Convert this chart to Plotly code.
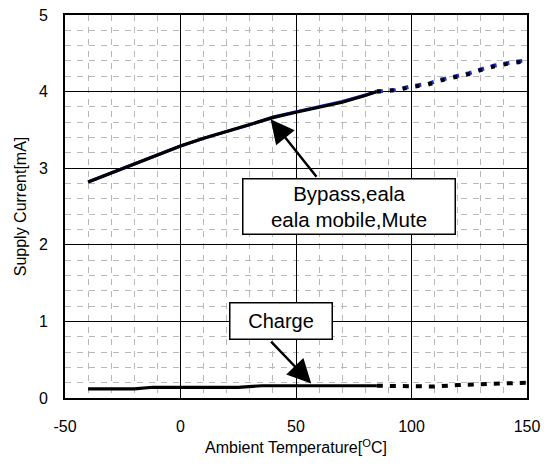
import plotly.graph_objects as go

# Bypass, eala, eala mobile, Mute  (measured / solid part)
byp_x = [-40, -30, -20, -10, 0, 10, 20, 30, 40, 50, 60, 70, 80, 85]
byp_y = [2.82, 2.94, 3.06, 3.18, 3.29, 3.39, 3.48, 3.56, 3.66, 3.73, 3.79, 3.86, 3.95, 4.00]
byp_blue_y = [2.82, 2.94, 3.06, 3.18, 3.29, 3.39, 3.48, 3.565, 3.67, 3.74, 3.80, 3.87, 3.955, 4.00]
# extrapolated (dotted part)
bypd_x = [85, 93, 100, 107, 112, 120, 125, 130, 136, 143, 150]
bypd_y = [4.00, 4.02, 4.06, 4.09, 4.14, 4.19, 4.23, 4.28, 4.33, 4.37, 4.40]
bypd_blue_y = [4.00, 4.02, 4.07, 4.10, 4.15, 4.20, 4.24, 4.29, 4.34, 4.38, 4.41]

# Charge
chg_x = [-40, -20, -12, 0, 25, 35, 50, 70, 85]
chg_y = [0.12, 0.12, 0.14, 0.14, 0.14, 0.16, 0.16, 0.16, 0.16]
chgd_x = [85, 100, 110, 120, 130, 140, 150]
chgd_y = [0.16, 0.15, 0.15, 0.17, 0.18, 0.19, 0.20]

x_ticks = [-50, 0, 50, 100, 150]
y_ticks = [0, 1, 2, 3, 4, 5]

FONT = "Liberation Sans, Arial, sans-serif"

fig = go.Figure()
fig.add_trace(go.Scatter(x=byp_x, y=byp_blue_y, mode="lines",
                         line=dict(color="#1f2fd0", width=3), hoverinfo="skip"))
fig.add_trace(go.Scatter(x=byp_x, y=byp_y, mode="lines",
                         line=dict(color="black", width=3.2), hoverinfo="skip"))
fig.add_trace(go.Scatter(x=bypd_x, y=bypd_blue_y, mode="lines",
                         line=dict(color="#1f2fd0", width=4, dash="6px,7px"), hoverinfo="skip"))
fig.add_trace(go.Scatter(x=bypd_x, y=bypd_y, mode="lines",
                         line=dict(color="black", width=4, dash="4px,9px"), hoverinfo="skip"))
fig.add_trace(go.Scatter(x=chg_x, y=chg_y, mode="lines",
                         line=dict(color="black", width=3.2), hoverinfo="skip"))
fig.add_trace(go.Scatter(x=chgd_x, y=chgd_y, mode="lines",
                         line=dict(color="black", width=4, dash="6px,7px"), hoverinfo="skip"))

# arrows
fig.add_annotation(x=39.0, y=3.64, ax=59.4, ay=2.87, axref="x", ayref="y",
                   text="", showarrow=True, arrowhead=2, arrowsize=1.9,
                   arrowwidth=2.5, arrowcolor="black")
fig.add_annotation(x=56.6, y=0.19, ax=38.6, ay=0.756, axref="x", ayref="y",
                   text="", showarrow=True, arrowhead=2, arrowsize=1.9,
                   arrowwidth=2.5, arrowcolor="black")
# boxes
fig.add_annotation(x=73.0, y=2.50, text="Bypass,eala<br>eala mobile,Mute",
                   showarrow=False, font=dict(family=FONT, size=20.5, color="black"),
                   bgcolor="white", bordercolor="black", borderwidth=1.5,
                   width=207, height=50, borderpad=2)
fig.add_annotation(x=43.6, y=1.01, text="Charge",
                   showarrow=False, font=dict(family=FONT, size=20, color="black"),
                   bgcolor="white", bordercolor="black", borderwidth=1.5,
                   width=97, height=31, borderpad=2)

fig.update_xaxes(range=[-50, 150], tickvals=x_ticks, ticktext=[str(v) for v in x_ticks],
                 showgrid=True, gridcolor="black", gridwidth=1, zeroline=False,
                 showline=True, linecolor="black", linewidth=2, mirror=True,
                 ticks="", ticklabelstandoff=13, automargin=False,
                 tickfont=dict(family=FONT, size=16, color="black"),
                 title=dict(text="Ambient Temperature[<sup>O</sup>C]",
                            font=dict(family=FONT, size=16, color="black"), standoff=8),
                 minor=dict(dtick=10, tick0=-50, showgrid=True, gridcolor="#b8b8b8",
                            griddash="6px,6px", gridwidth=1))
fig.update_yaxes(range=[0, 5], tickvals=y_ticks, ticktext=[str(v) for v in y_ticks],
                 showgrid=True, gridcolor="black", gridwidth=1, zeroline=False,
                 showline=True, linecolor="black", linewidth=2, mirror=True,
                 ticks="", ticklabelstandoff=12, automargin=False,
                 tickfont=dict(family=FONT, size=16, color="black"),
                 title=dict(text="Supply Current[mA]",
                            font=dict(family=FONT, size=16, color="black"), standoff=8),
                 minor=dict(dtick=0.2, tick0=0, showgrid=True, gridcolor="#b8b8b8",
                            griddash="6px,6px", gridwidth=1))

fig.update_layout(width=552, height=466, showlegend=False,
                  plot_bgcolor="white", paper_bgcolor="white",
                  margin=dict(l=65, r=25, t=15, b=68),
                  font=dict(family=FONT))

fig.write_html("out.html", config={"displayModeBar": False},
               post_script="document.body.style.margin='0';")
